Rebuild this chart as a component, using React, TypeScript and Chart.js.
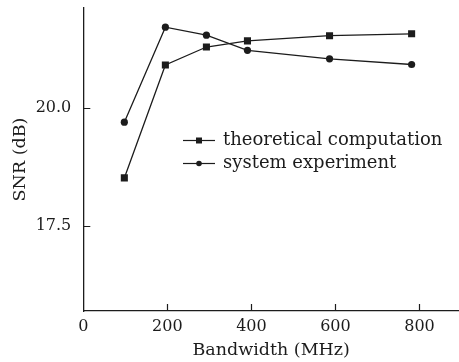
import React, { useEffect, useRef } from "react";
import { Chart, registerables } from "chart.js";

Chart.register(...registerables);

const bandwidth = [97.66, 195.31, 292.97, 390.63, 585.94, 781.25];
const theoretical = [18.51, 20.9, 21.28, 21.41, 21.52, 21.56];
const experiment = [19.69, 21.7, 21.53, 21.21, 21.03, 20.91];
const seriesLabels = ["theoretical computation", "system experiment"];
const xTicks = [0, 200, 400, 600, 800];
const yTicks = [17.5, 20.0];

const FONT = "'DejaVu Serif', serif";
const INK = "#1c1c1c";

const inwardTicks = {
  id: "inwardTicks",
  afterDraw(chart: any) {
    const ctx = chart.ctx;
    const xs = chart.scales.x;
    const ys = chart.scales.y;
    const a = chart.chartArea;
    ctx.save();
    ctx.strokeStyle = INK;
    ctx.lineWidth = 1.2;
    ctx.beginPath();
    xTicks.forEach((v) => {
      const px = Math.round(xs.getPixelForValue(v)) + 0.5;
      if (v === 0) return;
      ctx.moveTo(px, a.bottom);
      ctx.lineTo(px, a.bottom - 7);
    });
    yTicks.forEach((v) => {
      const py = Math.round(ys.getPixelForValue(v)) + 0.5;
      ctx.moveTo(a.left, py);
      ctx.lineTo(a.left + 7, py);
    });
    ctx.stroke();

    // legend
    const rows = [140.5, 163.5];
    chart.data.datasets.forEach((ds: any, i: number) => {
      const y = rows[i];
      ctx.beginPath();
      ctx.moveTo(183, y);
      ctx.lineTo(215, y);
      ctx.stroke();
      ctx.fillStyle = INK;
      if (ds.pointStyle === "rect") {
        ctx.fillRect(199 - 3, y - 3, 6, 6);
      } else {
        ctx.beginPath();
        ctx.arc(199, y, 2.8, 0, Math.PI * 2);
        ctx.fill();
      }
      ctx.font = "18px " + FONT;
      ctx.textBaseline = "middle";
      ctx.textAlign = "left";
      ctx.fillText(ds.label, 223, y);
    });
    ctx.restore();
  },
};

export default function App() {
  const ref = useRef<HTMLCanvasElement>(null);
  useEffect(() => {
    const chart = new Chart(ref.current!, {
      type: "scatter",
      data: {
        datasets: [
          {
            label: seriesLabels[0],
            data: bandwidth.map((x, i) => ({ x, y: theoretical[i] })),
            showLine: true,
            borderColor: INK,
            backgroundColor: INK,
            borderWidth: 1.3,
            pointStyle: "rect",
            pointRadius: 5,
            pointBorderWidth: 0,
          },
          {
            label: seriesLabels[1],
            data: bandwidth.map((x, i) => ({ x, y: experiment[i] })),
            showLine: true,
            borderColor: INK,
            backgroundColor: INK,
            borderWidth: 1.3,
            pointStyle: "circle",
            pointRadius: 3.6,
            pointBorderWidth: 0,
          },
        ],
      },
      options: {
        animation: false,
        responsive: false,
        devicePixelRatio: 1,
        layout: { autoPadding: false, padding: { top: 8, right: 0, left: 0, bottom: 0 } },
        plugins: { legend: { display: false }, tooltip: { enabled: false } },
        scales: {
          x: {
            type: "linear",
            min: 0,
            max: 894,
            afterFit: (s: any) => {
              s.height = 51;
              s.paddingLeft = 0;
              s.paddingRight = 0;
            },
            afterBuildTicks: (s: any) => {
              s.ticks = xTicks.map((v) => ({ value: v }));
            },
            grid: { display: false, drawTicks: false },
            border: { display: true, color: INK, width: 1.3 },
            ticks: {
              color: INK,
              padding: 6,
              maxRotation: 0,
              font: { family: FONT, size: 16 },
              callback: (v: any) => String(v),
            },
            title: {
              display: true,
              text: "Bandwidth (MHz)",
              color: INK,
              font: { family: FONT, size: 17.5 },
              padding: { top: 0, bottom: 1 },
            },
          },
          y: {
            type: "linear",
            min: 15.693,
            max: 22.106,
            afterFit: (s: any) => {
              s.width = 83.3;
              s.paddingTop = 0;
              s.paddingBottom = 0;
            },
            afterBuildTicks: (s: any) => {
              s.ticks = yTicks.map((v) => ({ value: v }));
            },
            grid: { display: false, drawTicks: false },
            border: { display: true, color: INK, width: 1.3 },
            ticks: {
              color: INK,
              padding: 12,
              font: { family: FONT, size: 16 },
              callback: (v: any) => Number(v).toFixed(1),
            },
            title: {
              display: true,
              text: "SNR (dB)",
              color: INK,
              font: { family: FONT, size: 17.5 },
              padding: { top: 10, bottom: 0 },
            },
          },
        },
      },
      plugins: [inwardTicks],
    });
    return () => chart.destroy();
  }, []);
  return (
    <div style={{ position: "absolute", left: 0, top: 0, width: 459, height: 362 }}>
      <canvas ref={ref} width={459} height={362} />
    </div>
  );
}
